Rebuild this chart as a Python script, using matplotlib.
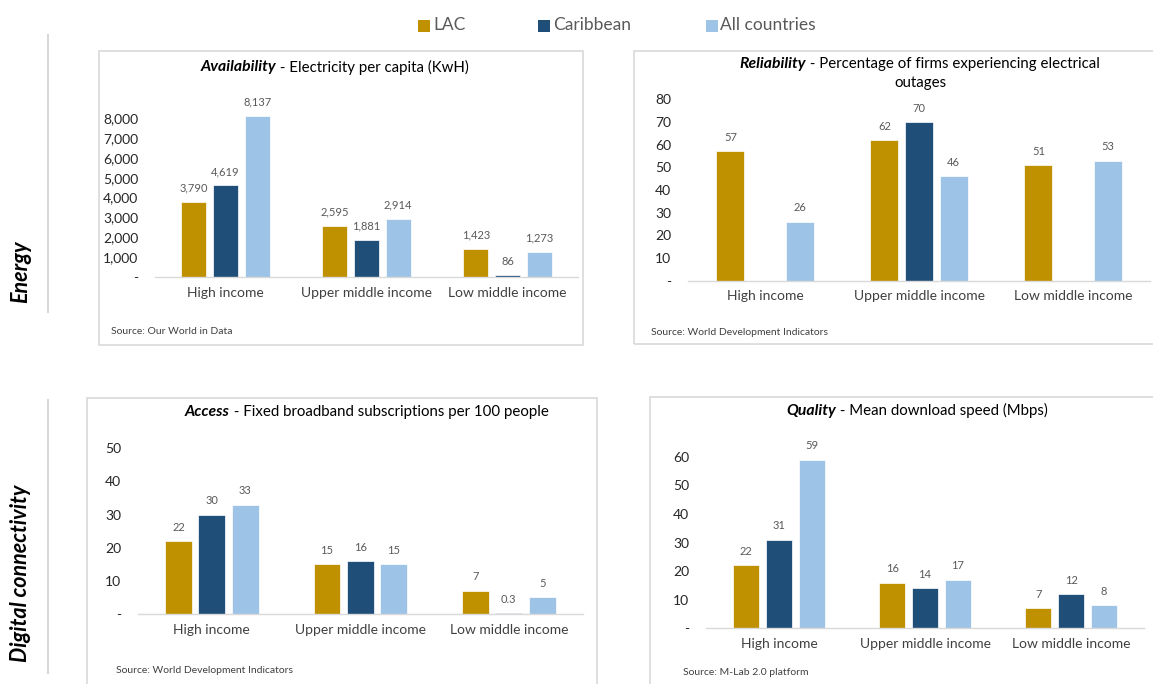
import matplotlib
matplotlib.use("Agg")
import matplotlib.pyplot as plt
from matplotlib.patches import Rectangle
from matplotlib.lines import Line2D
import numpy as np

plt.rcParams["font.family"] = ["Lato", "DejaVu Sans"]

# Income groups and series
groups = ["High income", "Upper middle income", "Low middle income"]
series = ["LAC", "Caribbean", "All countries"]
colors = ["#BF9000", "#1F4E79", "#9DC3E6"]

# Energy: availability (kWh per capita) and reliability (% of firms with outages)
availability = [[3790, 2595, 1423],
                [4619, 1881, 86],
                [8137, 2914, 1273]]
reliability = [[57, 62, 51],
               [np.nan, 70, np.nan],
               [26, 46, 53]]

# Digital connectivity: access (subscriptions per 100) and quality (Mbps)
access = [[22, 15, 7],
          [30, 16, 0.3],
          [33, 15, 5]]
quality = [[22, 16, 7],
           [31, 14, 12],
           [59, 17, 8]]

W, H = 1153, 684
fig = plt.figure(figsize=(W / 100, H / 100), dpi=100)
renderer = fig.canvas.get_renderer()

GRID = "#D9D9D9"
TXT = "#404040"


def fx(px):
    return px / W


def fy(py):
    return 1 - py / H


def fmt_value(v):
    if v < 1:
        return f"{v:.1f}"
    return f"{v:,.0f}"


def fmt_tick(v):
    return "-" if v == 0 else f"{v:,.0f}"


def panel_box(x0, y0, x1, y1):
    fig.add_artist(Rectangle((fx(x0), fy(y1)), fx(x1 - x0), (y1 - y0) / H,
                             transform=fig.transFigure, fill=False,
                             edgecolor=GRID, linewidth=1.2))


def mixed_title(cx, cy, bold, rest):
    t1 = fig.text(0, fy(cy), bold, fontsize=11.3, fontweight="bold",
                  fontstyle="italic", va="center", color="black")
    t2 = fig.text(0, fy(cy), rest, fontsize=10.8, va="center", color="black")
    w1 = t1.get_window_extent(renderer).width
    w2 = t2.get_window_extent(renderer).width
    x0 = cx - (w1 + w2) / 2
    t1.set_x(fx(x0))
    t2.set_x(fx(x0 + w1))


def source_note(x, y, text):
    fig.text(fx(x), fy(y), text, fontsize=7.5, color=TXT, va="center")


def bar_panel(left, right, base, top_px, data, ymax, yticks):
    ax = fig.add_axes([fx(left), fy(base), fx(right - left), (base - top_px) / H])
    ax.set_facecolor("none")
    x = np.arange(len(groups))
    width, step = 0.18, 0.225
    for i, (name, vals) in enumerate(zip(series, data)):
        vals = np.array(vals, dtype=float)
        bars = ax.bar(x + (i - 1) * step, vals, width, color=colors[i],
                      edgecolor="white", linewidth=0.5, label=name)
        labels = ["" if np.isnan(v) else fmt_value(v) for v in vals]
        ax.bar_label(bars, labels=labels, padding=6, fontsize=8, color="#595959")
    ax.set_xlim(-0.5, len(groups) - 0.5)
    ax.set_ylim(0, ymax)
    ax.set_yticks(yticks)
    ax.set_yticklabels([fmt_tick(v) for v in yticks])
    ax.set_xticks(x)
    ax.set_xticklabels(groups)
    ax.tick_params(axis="y", length=0, pad=12, labelsize=10, labelcolor="#262626")
    ax.tick_params(axis="x", length=0, pad=7, labelsize=10, labelcolor=TXT)
    for s in ["top", "right", "left"]:
        ax.spines[s].set_visible(False)
    ax.spines["bottom"].set_color(GRID)
    ax.spines["bottom"].set_linewidth(1.0)
    return ax


# Panel frames
panel_box(99, 50.7, 583, 345)
panel_box(634, 50.7, 1160, 344)
panel_box(87, 398, 597, 690)
panel_box(650, 397.3, 1160, 690)

# Row labels with separator lines
for label, cy, y0, y1 in [("Energy", 272, 35, 312),
                          ("Digital connectivity", 573, 400, 673)]:
    fig.text(fx(21), fy(cy), label, rotation=90, fontsize=15.5,
             fontweight="bold", fontstyle="italic", ha="center", va="center",
             color="black")
    fig.add_artist(Line2D([fx(48), fx(48)], [fy(y0), fy(y1)],
                          transform=fig.transFigure, color=GRID, linewidth=1.5))

# Energy panels
bar_panel(155, 578, 277, 277 - 9000 * 0.01984, availability, 9000,
          list(range(0, 8001, 1000)))
mixed_title(335, 67, "Availability", " - Electricity per capita (KwH)")
source_note(111, 331, "Source: Our World in Data")

bar_panel(688, 1150, 280.7, 99.3, reliability, 80, list(range(0, 81, 10)))
mixed_title(920, 64, "Reliability",
            " - Percentage of firms experiencing electrical")
fig.text(fx(920), fy(83.3), "outages", fontsize=10.8, ha="center",
         va="center", color="black")
source_note(651, 332.3, "Source: World Development Indicators")

# Digital connectivity panels
bar_panel(137.6, 583, 614, 448.3, access, 50, list(range(0, 51, 10)))
mixed_title(366.5, 411.7, "Access",
            " - Fixed broadband subscriptions per 100 people")
source_note(116, 670.7, "Source: World Development Indicators")

bar_panel(706, 1144, 628.3, 456.7, quality, 60, list(range(0, 61, 10)))
mixed_title(917.5, 410.7, "Quality", " - Mean download speed (Mbps)")
source_note(683, 672.7, "Source: M-Lab 2.0 platform")

# Shared legend across the top
for (sq_x, txt_x), name, c in zip([(418, 433), (538, 553), (706, 720)],
                                  series, colors):
    fig.add_artist(Rectangle((fx(sq_x), fy(31.5)), fx(11.5), 11.5 / H,
                             transform=fig.transFigure, facecolor=c,
                             edgecolor="none"))
    fig.text(fx(txt_x), fy(25.5), name, fontsize=12.5, color="#595959",
             va="center")

fig.savefig("out.png", dpi=100, facecolor="white")
